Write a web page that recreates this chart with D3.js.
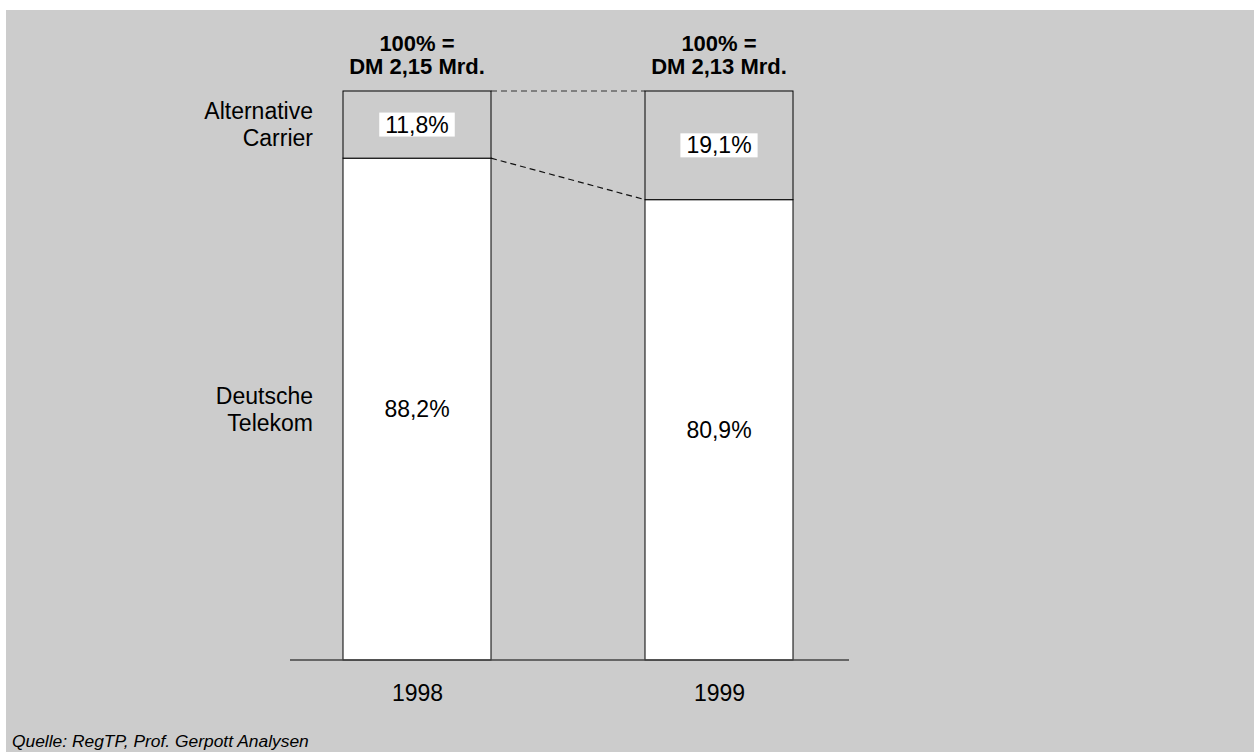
<!DOCTYPE html>
<html>
<head>
<meta charset="utf-8">
<script src="https://cdn.jsdelivr.net/npm/d3@7"></script>
<style>
  html, body { margin: 0; padding: 0; background: #ffffff; }
  svg { display: block; }
  text { font-family: "Liberation Sans", Arial, sans-serif; fill: #000; }
</style>
</head>
<body>
<svg id="chart" width="1254" height="752"></svg>
<script>
// ---- data ----
const years = ["1998", "1999"];
const totalLabels = ["DM 2,15 Mrd.", "DM 2,13 Mrd."];
const totalPrefix = "100% =";
const seriesNames = [["Deutsche", "Telekom"], ["Alternative", "Carrier"]];
const telekom = [88.2, 80.9];
const alternative = [11.8, 19.1];
const sourceText = "Quelle: RegTP, Prof. Gerpott Analysen";

// ---- setup ----
const W = 1254, H = 752;
const svg = d3.select("#chart");
const locale = d3.formatLocale({ decimal: ",", thousands: ".", grouping: [3], currency: ["", " DM"] });
const fmt = v => locale.format(".1f")(v) + "%";

svg.append("rect").attr("x", 6).attr("y", 10).attr("width", W - 6).attr("height", H - 10).attr("fill", "#cccccc");

const x = d3.scalePoint().domain(years).range([417, 719]);
const barW = 148;
const y = d3.scaleLinear().domain([0, 100]).range([660, 91]);

const rows = years.map((yr, i) => ({ year: yr, total: totalLabels[i], tk: telekom[i], alt: alternative[i] }));

// dashed connectors
const g = svg.append("g");
const left = rows[0], right = rows[1];
const xr0 = x(left.year) + barW / 2, xl1 = x(right.year) - barW / 2;
g.append("line")
  .attr("x1", xr0).attr("x2", xl1)
  .attr("y1", y(left.tk + left.alt)).attr("y2", y(right.tk + right.alt))
  .attr("stroke", "#333").attr("stroke-width", 1.2).attr("stroke-dasharray", "6,4");
g.append("line")
  .attr("x1", xr0).attr("x2", xl1)
  .attr("y1", y(left.tk)).attr("y2", y(right.tk))
  .attr("stroke", "#111").attr("stroke-width", 1.2).attr("stroke-dasharray", "6,4");

// bars
const bars = g.selectAll("g.bar").data(rows).join("g").attr("class", "bar");
bars.append("rect")
  .attr("x", d => x(d.year) - barW / 2).attr("width", barW)
  .attr("y", d => y(d.tk)).attr("height", d => y(0) - y(d.tk))
  .attr("fill", "#ffffff").attr("stroke", "#000").attr("stroke-width", 1);
bars.append("rect")
  .attr("x", d => x(d.year) - barW / 2).attr("width", barW)
  .attr("y", d => y(d.tk + d.alt)).attr("height", d => y(d.tk) - y(d.tk + d.alt))
  .attr("fill", "#cccccc").attr("stroke", "#000").attr("stroke-width", 1);

// value labels with white boxes
function valueLabel(sel, cx, cy, txt) {
  const gg = sel.append("g");
  const t = gg.append("text").attr("x", cx).attr("y", cy + 8)
    .attr("text-anchor", "middle").attr("font-size", 23).text(txt);
  const bb = t.node().getBBox();
  gg.insert("rect", "text").attr("x", bb.x - 6).attr("y", cy - 12)
    .attr("width", bb.width + 12).attr("height", 24).attr("fill", "#fff");
}
rows.forEach(d => {
  valueLabel(g, x(d.year), (y(d.tk) + y(d.tk + d.alt)) / 2, fmt(d.alt));
  valueLabel(g, x(d.year), (y(0) + y(d.tk)) / 2, fmt(d.tk));
});

// axis baseline
svg.append("line").attr("x1", 290).attr("x2", 849).attr("y1", y(0)).attr("y2", y(0))
  .attr("stroke", "#444").attr("stroke-width", 1.5);

// year labels via axis
const axisG = svg.append("g").attr("transform", `translate(0,${y(0)})`)
  .call(d3.axisBottom(x).tickSize(0).tickPadding(25));
axisG.select(".domain").remove();
axisG.selectAll("text").attr("font-size", 23).attr("font-family", "Liberation Sans, Arial, sans-serif").attr("fill", "#000");

// header labels
rows.forEach(d => {
  svg.append("text").attr("x", x(d.year)).attr("y", 51).attr("text-anchor", "middle")
    .attr("font-size", 22).attr("font-weight", "bold").text(totalPrefix);
  svg.append("text").attr("x", x(d.year)).attr("y", 74).attr("text-anchor", "middle")
    .attr("font-size", 22).attr("font-weight", "bold").text(d.total);
});

// series labels on the left
const segCenters = [(y(0) + y(left.tk)) / 2, (y(left.tk) + y(100)) / 2];
seriesNames.forEach((lines, i) => {
  const t = svg.append("text").attr("text-anchor", "end").attr("font-size", 23);
  lines.forEach((ln, j) => {
    t.append("tspan").attr("x", 313).attr("y", segCenters[i] - 13.5 + j * 27 + 8).text(ln);
  });
});

// source
svg.append("text").attr("x", 12).attr("y", 747).attr("font-size", 17.4)
  .attr("font-style", "italic").text(sourceText);
</script>
</body>
</html>
